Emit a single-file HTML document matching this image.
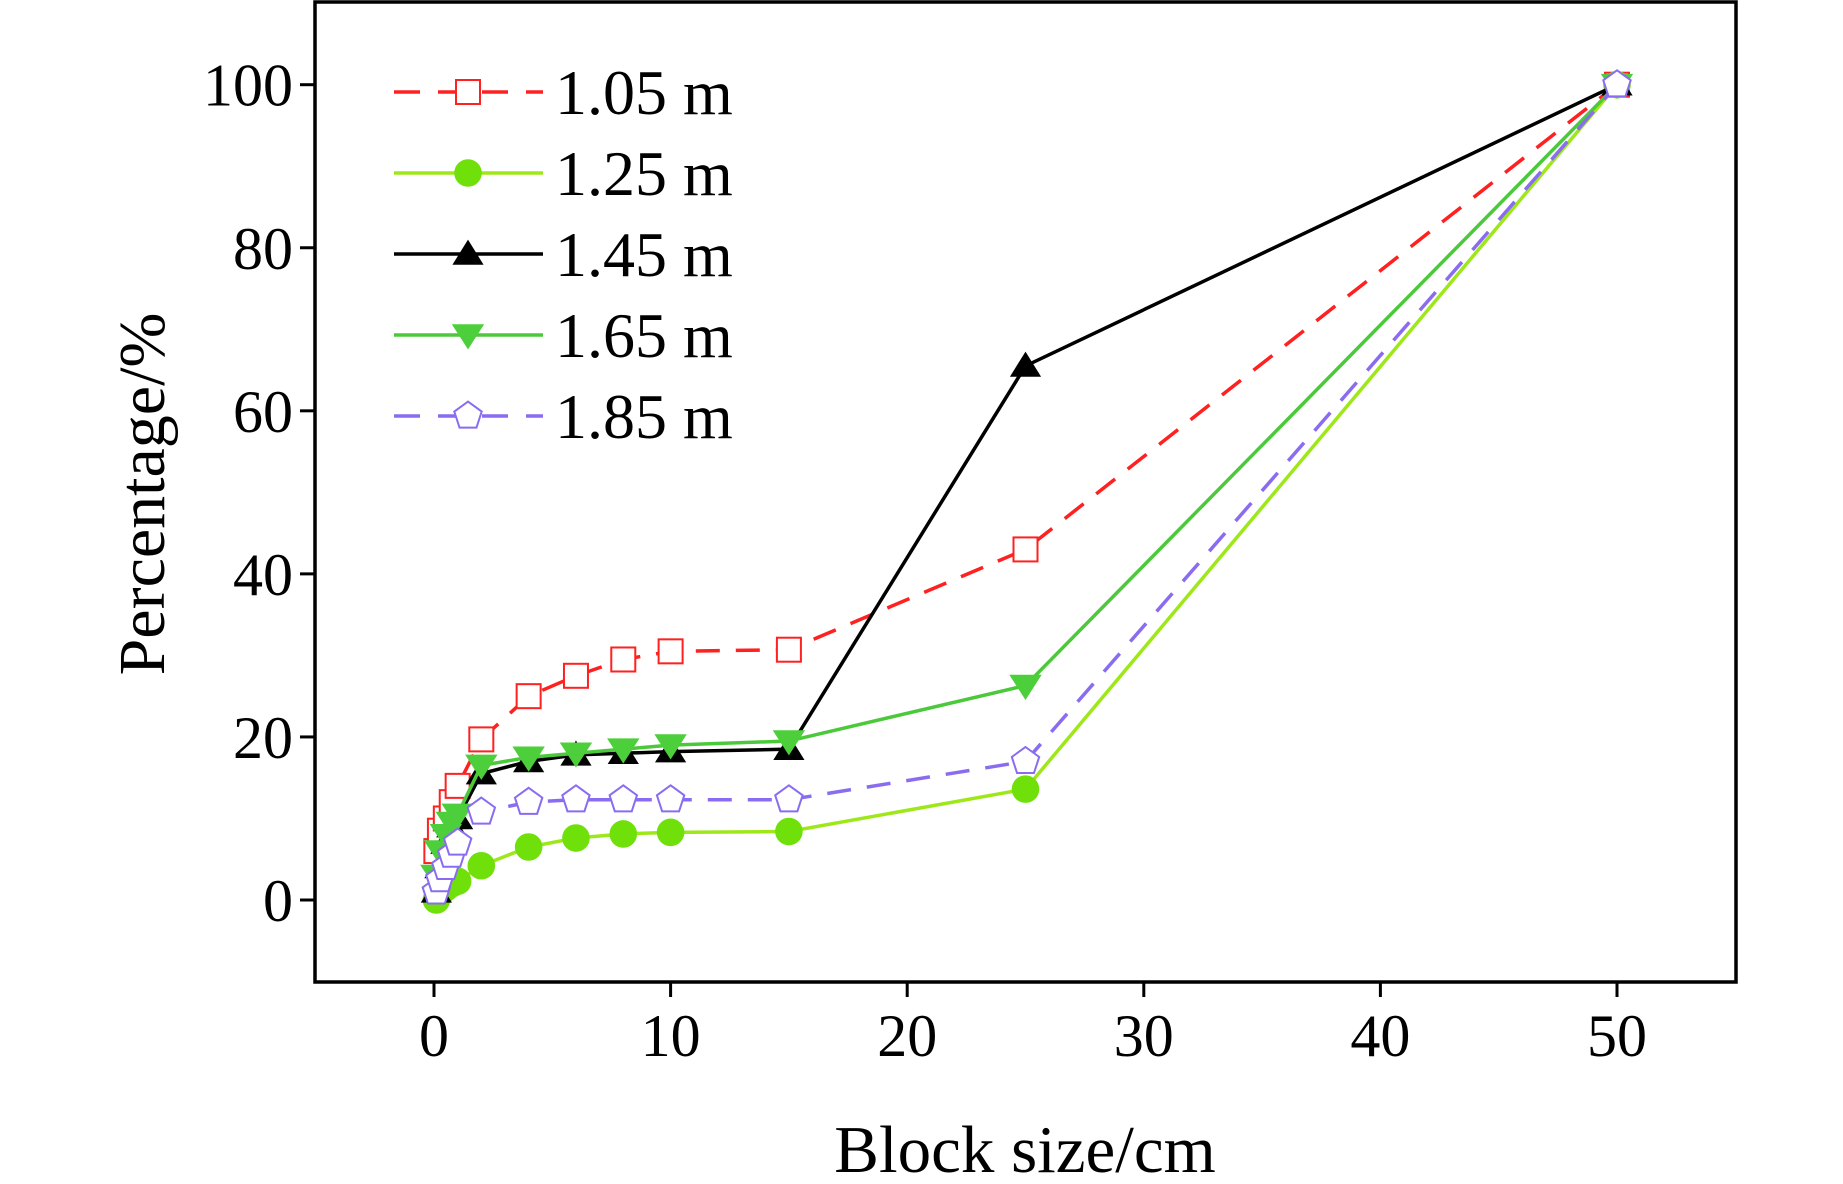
<!DOCTYPE html>
<html><head><meta charset="utf-8"><style>
html,body{margin:0;padding:0;background:#fff}
svg{display:block;font-family:"Liberation Serif",serif}
</style></head><body>
<svg id="chart" width="1843" height="1184" viewBox="0 0 1843 1184" xmlns="http://www.w3.org/2000/svg">
<rect x="315" y="2" width="1421" height="980" fill="none" stroke="#000" stroke-width="3.5"/>
<g id="axes"></g>
<g id="series"></g>
<g id="legend"></g>
<text x="1025" y="1172" font-size="67" text-anchor="middle">Block size/cm</text>
<text transform="translate(164,494) rotate(-90)" font-size="66" text-anchor="middle">Percentage/%</text>
</svg>
<script>
const xValues = [0.1, 0.25, 0.5, 0.75, 1, 2, 4, 6, 8, 10, 15, 25, 50];
const s105 = [6, 8.5, 10, 12, 14, 19.7, 25, 27.5, 29.5, 30.5, 30.7, 43, 100];
const s125 = [0, 0.8, 1.5, 2, 2.3, 4.2, 6.5, 7.6, 8.1, 8.3, 8.4, 13.6, 100];
const s145 = [1, 4, 7, 9, 10, 15.5, 17, 17.8, 18, 18.2, 18.5, 65.5, 100];
const s165 = [3, 6, 8, 9.5, 10.5, 16.5, 17.5, 18, 18.5, 19, 19.5, 26.3, 100];
const s185 = [1, 2.5, 4, 5.5, 7, 10.8, 12, 12.3, 12.3, 12.3, 12.3, 17, 100];
const xTicks = [0, 10, 20, 30, 40, 50];
const yTicks = [0, 20, 40, 60, 80, 100];
const seriesNames = ["1.05 m", "1.25 m", "1.45 m", "1.65 m", "1.85 m"];

const NS = "http://www.w3.org/2000/svg";
function X(v){return 434 + v * 23.66;}
function Y(v){return 900 - v * 8.153;}
function mk(tag, attrs, parent){const e=document.createElementNS(NS,tag);for(const k in attrs)e.setAttribute(k,attrs[k]);parent.appendChild(e);return e;}
const axes=document.getElementById('axes');
xTicks.forEach(t=>{
  const l=mk('line',{x1:X(t),x2:X(t),y1:982,y2:997,stroke:'#000','stroke-width':3},axes);
  
  
  const tx=mk('text',{x:X(t),y:1056,'font-size':60,'text-anchor':'middle'},axes);
  tx.textContent=t;
  
  
});
yTicks.forEach(t=>{
  const l=mk('line',{x1:300,x2:315,y1:Y(t),y2:Y(t),stroke:'#000','stroke-width':3},axes);
  
  
  const tx=mk('text',{x:293,y:Y(t)+21,'font-size':60,'text-anchor':'end'},axes);
  tx.textContent=t;
  
  
});
const cfg=[
 {d:s105,color:'#ff2020',dash:'24,16',m:'square'},
 {d:s125,color:'#9ee81a',dash:'',m:'circle'},
 {d:s145,color:'#000000',dash:'',m:'up'},
 {d:s165,color:'#4cc93a',dash:'',m:'down'},
 {d:s185,color:'#8a6cf0',dash:'24,16',m:'pent'}
];
function marker(type,cx,cy,color,parent,r){
  let e;
  if(type==='square') e=mk('rect',{x:cx-r,y:cy-r,width:2*r,height:2*r,fill:'#fff',stroke:color,'stroke-width':2},parent);
  else if(type==='circle') e=mk('circle',{cx:cx,cy:cy,r:r*1.15,fill:'#6fe00a'},parent);
  else if(type==='up') e=mk('polygon',{points:`${cx},${cy-r*1.2} ${cx-r*1.3},${cy+r*0.9} ${cx+r*1.3},${cy+r*0.9}`,fill:'#000'},parent);
  else if(type==='down') e=mk('polygon',{points:`${cx},${cy+r*1.2} ${cx-r*1.35},${cy-r*0.9} ${cx+r*1.35},${cy-r*0.9}`,fill:'#4ccf3a'},parent);
  else {let p=[];for(let i=0;i<5;i++){const a=-Math.PI/2+i*2*Math.PI/5;p.push((cx+r*1.2*Math.cos(a))+','+(cy+r*1.2*Math.sin(a)));}
    e=mk('polygon',{points:p.join(' '),fill:'#fff',stroke:color,'stroke-width':2},parent);}
  return e;
}
const sg=document.getElementById('series');
cfg.forEach((c,i)=>{
  const g=mk('g',{},sg);
  
  
  const pts=xValues.map((x,j)=>X(x)+','+Y(c.d[j])).join(' ');
  const pl=mk('polyline',{points:pts,fill:'none',stroke:c.color,'stroke-width':3.5,'stroke-dasharray':c.dash},g);
  
  
  xValues.forEach((x,j)=>{
    const m=marker(c.m,X(x),Y(c.d[j]),c.color,g,12);
    
    
  });
  const lg=document.getElementById('legend');
  const ly=92+i*81;
  const item=mk('g',{},lg);
  
  
  mk('line',{x1:394,x2:543,y1:ly,y2:ly,stroke:c.color,'stroke-width':3.5,'stroke-dasharray':c.dash?'26,18':''},item);
  marker(c.m,468,ly,c.color,item,12);
  const t=mk('text',{x:555,y:ly+22,'font-size':64},item);
  t.textContent=seriesNames[i];
});
</script>
</body></html>
